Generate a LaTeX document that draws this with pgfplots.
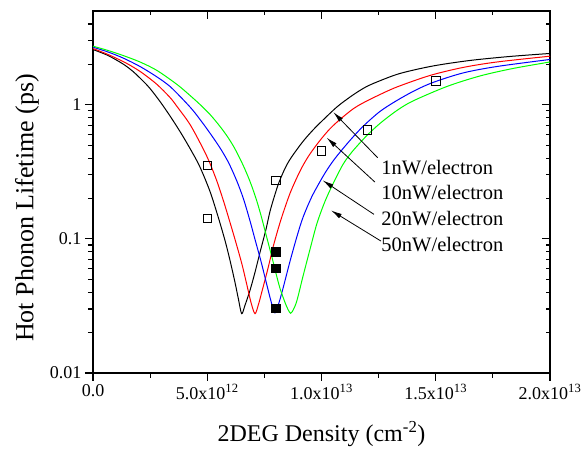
\documentclass[border=0pt]{standalone}
\usepackage{fontspec}
\setmainfont{Liberation Serif}
\usepackage{pgfplots}
\pgfplotsset{compat=1.18}
\usetikzlibrary{arrows.meta}

\definecolor{cgreen}{RGB}{0,255,0}
\definecolor{cred}{RGB}{255,0,0}
\definecolor{cblue}{RGB}{0,0,255}

\pgfplotsset{
  lifetimebox/.style={
    scale only axis, width=457pt, height=362pt,
    xmin=0, xmax=2e13, ymin=0.01, ymax=5,
    scaled x ticks=false,
    xtick={0,5e12,1e13,1.5e13,2e13},
    minor xtick={2.5e12,7.5e12,1.25e13,1.75e13},
    ytick={0.01,0.1,1},
    minor ytick={0.02,0.03,0.04,0.05,0.06,0.07,0.08,0.09,0.2,0.3,0.4,0.5,0.6,0.7,0.8,0.9,2,3,4},
    major tick length=8pt, minor tick length=5pt,
    axis line style={line width=1.6pt},
    every tick/.style={line width=1.2pt, black},
  }
}

\begin{document}
\begin{tikzpicture}
% inward ticks on the top and right edges
\begin{semilogyaxis}[lifetimebox,
  tick align=inside, xtick pos=right, ytick pos=right,
  xticklabels={}, yticklabels={},
  minor tick length=4pt]
\end{semilogyaxis}

\begin{semilogyaxis}[lifetimebox,
  tick align=outside, xtick pos=left, ytick pos=left,
  xticklabels={0.0, 5.0x10\textsuperscript{12}, 1.0x10\textsuperscript{13}, 1.5x10\textsuperscript{13}, 2.0x10\textsuperscript{13}},
  yticklabels={0.01,0.1,1},
  tick label style={font=\fontsize{18}{18}\selectfont},
  xlabel={2DEG Density (cm\textsuperscript{-2})},
  ylabel={Hot Phonon Lifetime (ps)},
  every axis x label/.style={at={(axis description cs:0.5,0)}, anchor=center, yshift=-61pt, font=\fontsize{24}{24}\selectfont},
  every axis y label/.style={at={(axis description cs:0,0.456)}, xshift=-66pt, rotate=90, anchor=center, font=\fontsize{26}{26}\selectfont},
  every axis plot/.append style={line width=1pt},
]

% 1 nW/electron
\addplot[black, smooth, tension=0.5] coordinates {
(0,2.58) (0.656e12,2.330) (1.313e12,2.014) (1.750e12,1.771) (2.188e12,1.504)
(2.494e12,1.323) (2.932e12,1.058) (3.370e12,0.825) (3.807e12,0.632) (4.245e12,0.4725)
(4.669e12,0.3469) (5.120e12,0.2259) (5.470e12,0.1471) (5.776e12,0.0974) (5.995e12,0.0692)
(6.214e12,0.0474) (6.367e12,0.0354) (6.507e12,0.0277) (6.652e12,0.0320) (6.870e12,0.0413)
(7.089e12,0.0563) (7.308e12,0.0793) (7.570e12,0.1177) (7.746e12,0.1603) (7.964e12,0.2146)
(8.139e12,0.2636) (8.402e12,0.3351) (8.664e12,0.4015) (9.190e12,0.5327) (9.715e12,0.6717)
(1.0459e13,0.8915) (1.0809e13,1.005) (1.1378e13,1.183) (1.1903e13,1.346) (1.2428e13,1.479)
(1.3434e13,1.711) (1.4878e13,1.946) (1.6498e13,2.139) (1.8248e13,2.291) (2e13,2.412)
};

% 10 nW/electron
\addplot[cred, smooth, tension=0.5] coordinates {
(0,2.628) (0.656e12,2.371) (1.313e12,2.102) (1.750e12,1.913) (2.188e12,1.711)
(2.801e12,1.417) (3.370e12,1.133) (3.676e12,0.971) (4.245e12,0.713) (4.814e12,0.4725)
(5.120e12,0.3652) (5.426e12,0.2683) (5.689e12,0.1969) (5.864e12,0.1576) (6.214e12,0.0992)
(6.520e12,0.0646) (6.739e12,0.0450) (6.914e12,0.0336) (7.089e12,0.0277) (7.242e12,0.0325)
(7.395e12,0.0406) (7.658e12,0.0603) (7.877e12,0.0864) (8.096e12,0.1177) (8.314e12,0.1549)
(8.621e12,0.2183) (8.927e12,0.2872) (9.190e12,0.3529) (9.496e12,0.4299) (9.934e12,0.542)
(1.0371e13,0.6625) (1.0809e13,0.777) (1.1378e13,0.9305) (1.1815e13,1.031) (1.2428e13,1.163)
(1.3303e13,1.357) (1.4747e13,1.653) (1.6191e13,1.897) (1.7679e13,2.084) (2e13,2.302)
};

% 20 nW/electron
\addplot[cblue, smooth, tension=0.5] coordinates {
(0,2.687) (0.656e12,2.474) (1.313e12,2.232) (2.057e12,1.929) (2.801e12,1.612)
(3.370e12,1.369) (3.938e12,1.095) (4.376e12,0.907) (4.814e12,0.7255) (5.251e12,0.5706)
(5.601e12,0.4645) (5.951e12,0.3652) (6.301e12,0.2683) (6.564e12,0.2038) (6.739e12,0.1631)
(6.914e12,0.1282) (7.089e12,0.0992) (7.352e12,0.0680) (7.570e12,0.0482) (7.746e12,0.0366)
(7.855e12,0.0314) (7.964e12,0.0281) (8.074e12,0.0309) (8.183e12,0.0354) (8.327e12,0.0435)
(8.621e12,0.0680) (8.927e12,0.1044) (9.190e12,0.1446) (9.583e12,0.2074) (1.0065e13,0.2922)
(1.0371e13,0.3529) (1.0677e13,0.4153) (1.1246e13,0.542) (1.1815e13,0.6892) (1.2559e13,0.8915)
(1.3303e13,1.077) (1.4091e13,1.278) (1.4878e13,1.466) (1.6191e13,1.726) (1.7679e13,1.929)
(2e13,2.176)
};

% 50 nW/electron
\addplot[cgreen, smooth, tension=0.5] coordinates {
(0,2.733) (0.656e12,2.539) (1.313e12,2.330) (2.057e12,2.084) (2.801e12,1.801)
(3.676e12,1.417) (4.245e12,1.173) (4.682e12,1.005) (5.120e12,0.847) (5.558e12,0.6892)
(5.908e12,0.5706) (6.214e12,0.4685) (6.564e12,0.3559) (6.870e12,0.2683) (7.133e12,0.2003)
(7.352e12,0.1497) (7.570e12,0.1080) (7.833e12,0.0728) (8.008e12,0.0553) (8.183e12,0.0428)
(8.402e12,0.0336) (8.533e12,0.0298) (8.651e12,0.0279) (8.774e12,0.0298) (8.927e12,0.0348)
(9.190e12,0.0526) (9.496e12,0.0835) (9.802e12,0.1305) (1.0152e13,0.1903) (1.0502e13,0.2569)
(1.0940e13,0.3590) (1.1334e13,0.4449) (1.1946e13,0.5804) (1.2559e13,0.7255) (1.3303e13,0.907)
(1.4003e13,1.067) (1.5491e13,1.369) (1.6935e13,1.639) (1.8379e13,1.864) (2e13,2.084)
};

% measured lifetimes
\addplot[black, only marks, mark=square, mark size=4.2pt, mark options={line width=0.9pt}] coordinates {
(5e12,0.353) (5e12,0.1414) (8e12,0.2729) (1e13,0.451) (1.2e13,0.651) (1.5e13,1.50)
};
\addplot[black, only marks, mark=square*, mark size=4.2pt] coordinates {
(8e12,0.0797) (8e12,0.0600) (8e12,0.0303)
};

% labels with arrows
\begin{scope}[line width=0.8pt, -{Latex[length=11pt,width=5pt]}]
\draw (axis cs:1.2458e13,0.4028) -- (axis cs:1.0516e13,0.881);
\draw (axis cs:1.2340e13,0.2650) -- (axis cs:1.0227e13,0.5677);
\draw (axis cs:1.2297e13,0.1523) -- (axis cs:1.0052e13,0.2729);
\draw (axis cs:1.2603e13,0.0963) -- (axis cs:1.0415e13,0.1631);
\end{scope}
\begin{scope}[every node/.style={anchor=base west, inner sep=0pt, font=\fontsize{20.5}{20.5}\selectfont}]
\node at (axis cs:1.2616e13,0.3008) {1nW/electron};
\node at (axis cs:1.2616e13,0.1959) {10nW/electron};
\node at (axis cs:1.2616e13,0.1260) {20nW/electron};
\node at (axis cs:1.2616e13,0.0811) {50nW/electron};
\end{scope}

\coordinate (bl) at (rel axis cs:0,0);
\coordinate (tr) at (rel axis cs:1,1);
\end{semilogyaxis}

\pgfresetboundingbox
\path ([xshift=-93pt,yshift=-76pt]bl) rectangle ([xshift=32pt,yshift=11pt]tr);
\end{tikzpicture}
\end{document}
